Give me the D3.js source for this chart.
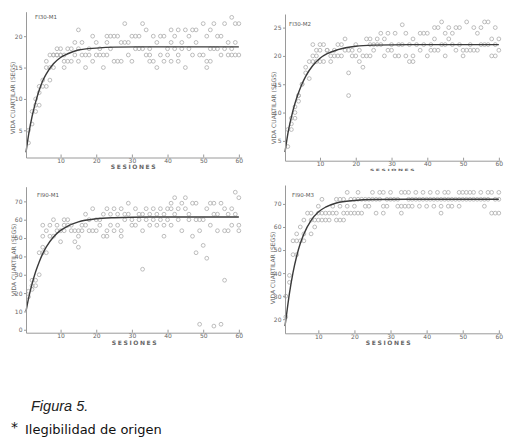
<!DOCTYPE html>
<html>
<head>
<meta charset="utf-8">
<script src="https://cdn.jsdelivr.net/npm/d3@7"></script>
<style>
  body { margin: 0; background: #fff; }
  text { font-family: "DejaVu Sans", Verdana, sans-serif; }
</style>
</head>
<body>
<svg id="fig" width="510" height="439"></svg>
<script>
// values per session (1..60)
var fi30m1 = [
  [3,5],[6,8],[8,10,9],[9,11,12],[12,13],[12,15,16],[13,17,15],[17,15,17],[18,17,17],[18,17,17],
  [16,15,17],[16,18],[18,16],[19,17],[21,16,18],[19,17],[15,17],[17,18],[20,16],[19,17],
  [18,17],[15,17],[20,19,17],[20,18],[20,16],[20,16],[19,16],[22,19],[17,19],[20,16],
  [20,18],[20,18],[22,18],[21,17],[18,17,16],[20,16],[19,15],[20,17],[20,16],[18,17],
  [19,21,16],[20,18],[21,17,16],[19,18],[21,15],[20,18],[21,17],[21,19],[17],[22,17],
  [20,16,15],[21,18,16],[22,18],[20,18],[20,17],[22,18],[19,17],[23,18,17],[22,19,17],[22,17]
];
var fi30m2 = [
  [4,7],[8,9,7],[10,11,9],[13,12,13],[15,15],[18,17],[19,16],[22,20,19],[21,20,19],[22,21,19],
  [22,19],[21,21],[19,20],[20,21],[22,20],[22,20],[23,21],[17,13,21],[21,20],[22,20],
  [19,21],[18,20],[23,20],[23,22,20],[21,22],[23,22],[24,22],[23,20],[24,21],[22,21],
  [24,20],[22,20],[25.5,22],[24,20],[22,19],[23,20,19],[22],[24,21],[24,22],[24,20],
  [22,21],[25,23,21],[25,21],[26,22],[24,20,22],[25,23],[24,22],[25,21],[25,22],[21,20],
  [26,21],[22,21],[25,21],[24,21],[25,22],[26,22],[26,22],[23,20],[25,20,22],[23,21]
];
var fi90m1 = [
  [18,21],[24,22,27],[27,24],[30,42],[57,51,42,45],[42,54],[57,51],[60,51],[57,54],[48,54],
  [60,57,54],[60,57],[54,57],[48,54],[45,51,54],[57,54],[63,57],[60,54],[66,54],[54,60],
  [57,60],[63,51],[66,51,54],[63,57],[66,54],[63,57],[66,54,51],[63,60],[69,63],[60,57],
  [66,57],[63,60],[63,54,33],[66,60],[63,57],[66,60],[63,57],[66,60],[63,57,51],[66,60],
  [69,66,57],[72,63],[60,66],[69,54],[72,66],[63,60],[69,51],[69,60,42],[60,54,3],[60,46],
  [66,39],[69,57],[69,63,2],[63,54],[69,3],[66,54,27],[63,54],[66,57],[75,63],[72,57,54]
];
var fi90m3 = [
  [21,30],[36,39],[48,54],[48,54,57],[60,54],[63,57,54],[66],[66,63,57],[63,60],[69,66,63],
  [72,66,63],[66,63],[63,66],[69,66],[72,66,63],[72,69,63],[72,66,63],[75,69,66],[72,66],[72,69,66],
  [75,72,66],[72,66],[72,69],[72,69],[75,72],[72,66],[75,72],[75,69,66],[72,69],[75,72],
  [72],[72,69],[75,69,66],[75,69],[75,72,69],[72,69],[75,72],[72,69],[75,72],[72,69],
  [75,72],[72,69],[75,72],[72,69,66],[75,72],[75,72,69],[72,69],[72],[75,72,69],[75,72],
  [75,72],[75,72],[75,72],[72],[75,72],[72,69],[75,72],[75,66],[72,66],[75,72,66]
];

// fitted curves, [session, value]
var fit30m1 = [[0.3,1.5],[1,4.2],[2,7.2],[3,9.5],[4,11.4],[5,12.9],[6,14.0],[8,15.6],[10,16.6],[12,17.2],[15,17.8],[20,18.1],[25,18.25],[35,18.3],[60,18.3]];
var fit30m2 = [[0.22,3],[1,6.2],[2,9.2],[3,11.6],[4,13.5],[5,15.1],[6,16.4],[8,18.3],[10,19.6],[12,20.4],[15,21.1],[20,21.7],[25,21.9],[35,22],[60,22]];
var fit90m1 = [[0.3,10],[1,17],[2,25],[3,31.6],[4,37],[5,41.5],[6,45.2],[8,50.6],[10,54.2],[12,56.5],[15,58.8],[20,60.5],[25,61.1],[35,61.5],[60,61.5]];
var fit90m3 = [[0.77,17],[1,19.7],[2,31.2],[3,40.3],[4,47.3],[5,52.8],[6,57],[8,62.9],[10,66.5],[12,68.6],[15,70.4],[20,71.5],[25,71.9],[35,72],[60,72]];

var titles = ["FI30-M1", "FI30-M2", "FI90-M1", "FI90-M3"];
var xTicks = [10, 20, 30, 40, 50, 60];
var yTicks = [[5,10,15,20], [5,10,15,20,25], [0,10,20,30,40,50,60,70], [20,30,40,50,60,70]];

var svg = d3.select("#fig");

// xlab: [cx, cy, vertical squash] -- the FI30-M2 label is half cut in the scan
var panels = [
  { pts: fi30m1, fit: fit30m1, xd: [0.3, 60.8], xr: [26, 241.7], yd: [0.67, 23.9], yr: [157.5, 11.7],
    title: [35, 19], ylab: [13, 98], xlab: [134, 167, 1] },
  { pts: fi30m2, fit: fit30m2, xd: [0.22, 60.6], xr: [285, 501], yd: [1.5, 27.4], yr: [160.7, 14],
    title: [289, 26], ylab: [274, 108], xlab: [393, 169.5, 0.5] },
  { pts: fi90m1, fit: fit90m1, xd: [0.3, 60.8], xr: [26, 241.7], yd: [-1.6, 78], yr: [332.7, 186.7],
    title: [37, 197], ylab: [14, 260], xlab: [135, 343, 1] },
  { pts: fi90m3, fit: fit90m3, xd: [0.77, 60.6], xr: [285, 501], yd: [13.9, 78.2], yr: [333.3, 185],
    title: [292, 197], ylab: [273, 268], xlab: [389, 343, 1] }
];

panels.forEach(function (p, i) {
  var x = d3.scaleLinear().domain(p.xd).range(p.xr),
      y = d3.scaleLinear().domain(p.yd).range(p.yr);
  var g = svg.append("g");

  // points
  var flat = [];
  p.pts.forEach(function (vals, k) {
    vals.forEach(function (v) { flat.push([k + 1, v]); });
  });
  g.selectAll("circle")
      .data(flat)
      .enter()
      .append("circle")
      .attr("cx", function (d) { return x(d[0]); })
      .attr("cy", function (d) { return y(d[1]); })
      .attr("r", 1.9)
      .attr("fill", "none")
      .attr("stroke", "#b4b4b4")
      .attr("stroke-width", 0.9);

  // fitted curve
  g.append("path")
      .datum(p.fit)
      .attr("d", d3.line()
        .x(function (d) { return x(d[0]); })
        .y(function (d) { return y(d[1]); })
        .curve(d3.curveMonotoneX))
      .attr("fill", "none")
      .attr("stroke", "#3a3a3a")
      .attr("stroke-width", 1.4);

  // axes
  var xa = g.append("g")
      .attr("transform", "translate(0," + p.yr[0] + ")")
      .call(d3.axisBottom(x).tickValues(xTicks).tickSize(-3).tickSizeOuter(0).tickPadding(1.5));
  var ya = g.append("g")
      .attr("transform", "translate(" + p.xr[0] + ",0)")
      .call(d3.axisLeft(y).tickValues(yTicks[i]).tickSize(2).tickSizeOuter(0).tickPadding(1.5));
  [xa, ya].forEach(function (a) {
    a.select(".domain").attr("stroke", "#9a9a9a");
    a.selectAll(".tick line").attr("stroke", "#9a9a9a");
    a.selectAll(".tick text")
        .attr("fill", "#666")
        .style("font-size", "6px")
        .style("font-family", "DejaVu Sans, sans-serif");
  });

  g.append("text")
      .attr("x", p.title[0])
      .attr("y", p.title[1])
      .attr("fill", "#555")
      .style("font-size", "5.5px")
      .text(titles[i]);

  g.append("text")
      .attr("transform", "translate(" + p.ylab[0] + "," + p.ylab[1] + ") rotate(-90)")
      .attr("text-anchor", "middle")
      .attr("dy", "0.35em")
      .attr("fill", "#666")
      .style("font-size", "6px")
      .text("VIDA CUARTILAR  (SEGS)");

  g.append("text")
      .attr("transform", "translate(" + p.xlab[0] + "," + p.xlab[1] + ") scale(1," + p.xlab[2] + ")")
      .attr("text-anchor", "middle")
      .attr("dy", "0.35em")
      .attr("fill", "#666")
      .style("font-size", "6px")
      .style("font-weight", "bold")
      .style("letter-spacing", "1.6px")
      .text("SESIONES");
});

// caption
svg.append("text")
    .attr("x", 31)
    .attr("y", 411)
    .attr("fill", "#222")
    .style("font-family", "Liberation Sans, Arial, sans-serif")
    .style("font-style", "italic")
    .style("font-size", "14.5px")
    .text("Figura 5.");

svg.append("text")
    .attr("x", 11)
    .attr("y", 432)
    .attr("fill", "#111")
    .style("font-size", "14px")
    .text("*");

svg.append("text")
    .attr("x", 25)
    .attr("y", 434)
    .attr("fill", "#111")
    .style("font-size", "13px")
    .text("Ilegibilidad de origen");
</script>
</body>
</html>
